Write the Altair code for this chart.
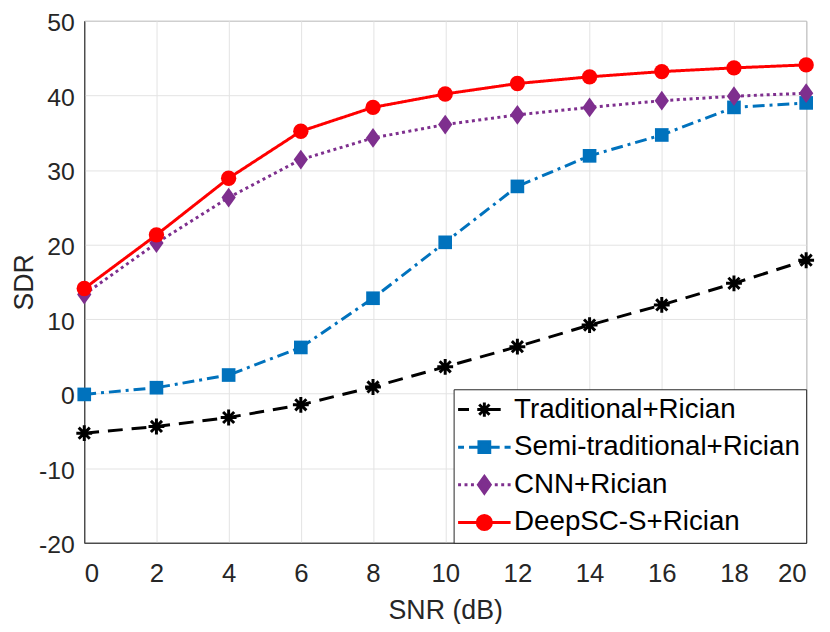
import altair as alt
import pandas as pd

snr = [0, 2, 4, 6, 8, 10, 12, 14, 16, 18, 20]
traditional = [-5.3, -4.4, -3.2, -1.5, 0.9, 3.6, 6.3, 9.2, 11.9, 14.8, 17.9]
semi = [-0.1, 0.8, 2.5, 6.2, 12.8, 20.3, 27.8, 31.9, 34.7, 38.4, 39.0]
cnn = [13.3, 20.2, 26.3, 31.4, 34.3, 36.1, 37.4, 38.4, 39.3, 39.9, 40.3]
deepsc = [14.1, 21.3, 28.9, 35.2, 38.4, 40.2, 41.6, 42.5, 43.2, 43.7, 44.1]

methods = ["Traditional+Rician", "Semi-traditional+Rician", "CNN+Rician", "DeepSC-S+Rician"]
colors = ["#000000", "#0072BD", "#7E2F8E", "#FF0000"]
dashes = [[15, 9], [12, 5, 3, 5], [3, 3.5], [1, 0]]
x_ticks = list(range(0, 21, 2))
y_ticks = list(range(-20, 51, 10))

series = [traditional, semi, cnn, deepsc]
rows = []
for m, vals in zip(methods, series):
    for s, v in zip(snr, vals):
        rows.append({"snr": s, "sdr": v, "method": m})
df = pd.DataFrame(rows)

FONT = "Liberation Sans"
AST = "M0,-1V1M-1,0H1M-0.7,-0.7L0.7,0.7M-0.7,0.7L0.7,-0.7"
DIA = "M0,-1L0.72,0L0,1L-0.72,0Z"

# legend symbols (line sample + marker), units of sqrt(symbolSize)/2
leg_paths = [
    "M-1.23,0H-0.38M1.31,0H2.08"
    "M0.81,-0.55V0.55M0.26,0H1.36M0.41,-0.4L1.21,0.4M0.41,0.4L1.21,-0.4",
    "M-1.23,0H-0.77M-0.38,0H0.31M1.31,0H2.0M2.38,0H2.85"
    "M0.39,-0.42H1.23V0.42H0.39Z",
    "M-1.23,0H-1.0M-0.73,0H-0.5M-0.23,0H0M1.62,0H1.85M2.12,0H2.35M2.62,0H2.85"
    "M0.81,-0.65L1.27,0L0.81,0.65L0.35,0Z",
    "M-1.23,0H2.85"
    "M1.36,0A0.55,0.55,0,1,1,0.26,0A0.55,0.55,0,1,1,1.36,0Z",
]

x_scale = alt.Scale(domain=[0, 20], nice=False)
y_scale = alt.Scale(domain=[-20, 50], nice=False)
x_enc = alt.X("snr:Q", scale=x_scale,
              axis=alt.Axis(values=x_ticks, title="SNR (dB)", format="d"))
y_enc = alt.Y("sdr:Q", scale=y_scale,
              axis=alt.Axis(values=y_ticks, title="SDR",
                            labelExpr="datum.value < 0 ? '-' + abs(datum.value) : '' + datum.value"))

marker_specs = [
    (AST, 256, False),
    ("square", 190, True),
    (DIA, 400, True),
    ("circle", 240, True),
]

line_layers = []
point_layers = []
for m, col, dash, (shp, sz, filled) in zip(methods, colors, dashes, marker_specs):
    base = alt.Chart(df).transform_filter(alt.datum.method == m)
    line_layers.append(
        base.mark_line(strokeWidth=3, color=col, strokeDash=dash).encode(x=x_enc, y=y_enc)
    )
    point_layers.append(
        base.mark_point(
            shape=shp, size=sz, filled=filled, opacity=1, color=col,
            strokeWidth=3 if not filled else 0,
        ).encode(x=x_enc, y=y_enc)
    )

leg = alt.Legend(
    title=None, orient="bottom-right", offset=0, padding=6,
    strokeColor="#262626", fillColor="white", cornerRadius=0,
    labelFont=FONT, labelFontSize=28, labelColor="#000000",
    symbolSize=676, symbolStrokeWidth=3, labelOffset=26, rowPadding=9,
    labelLimit=400, symbolOpacity=1,
)
legend_layer = alt.Chart(df).mark_point(
    filled=True, opacity=1, strokeWidth=3, size=0
).encode(
    x=x_enc, y=y_enc,
    fill=alt.Fill("method:N", scale=alt.Scale(domain=methods, range=colors), legend=leg),
    stroke=alt.Stroke("method:N", scale=alt.Scale(domain=methods, range=colors), legend=leg),
    shape=alt.Shape("method:N", scale=alt.Scale(domain=methods, range=leg_paths), legend=leg),
)

layers = []
for ln, pt in zip(line_layers, point_layers):
    layers.extend([ln, pt])
layers.append(legend_layer)

chart = alt.layer(*layers).properties(
    width=729, height=527,
    autosize=alt.AutoSizeParams(type="none"),
    padding={"left": 77, "top": 10, "right": 16, "bottom": 79},
).configure_view(
    stroke="#262626", strokeWidth=1
).configure_axis(
    labelFont=FONT, titleFont=FONT, labelFontSize=26, titleFontSize=27,
    labelColor="#262626", titleColor="#262626", titleFontWeight="normal",
    domainColor="#262626", domainWidth=1, ticks=False,
    gridColor="#e3e3e3", gridWidth=1,
).configure_axisX(titlePadding=11, labelPadding=18).configure_axisY(
    titlePadding=0, labelPadding=10, labelOffset=2, labelFontSize=25)

chart.save("out.html", embed_options={"renderer": "svg", "actions": False})
